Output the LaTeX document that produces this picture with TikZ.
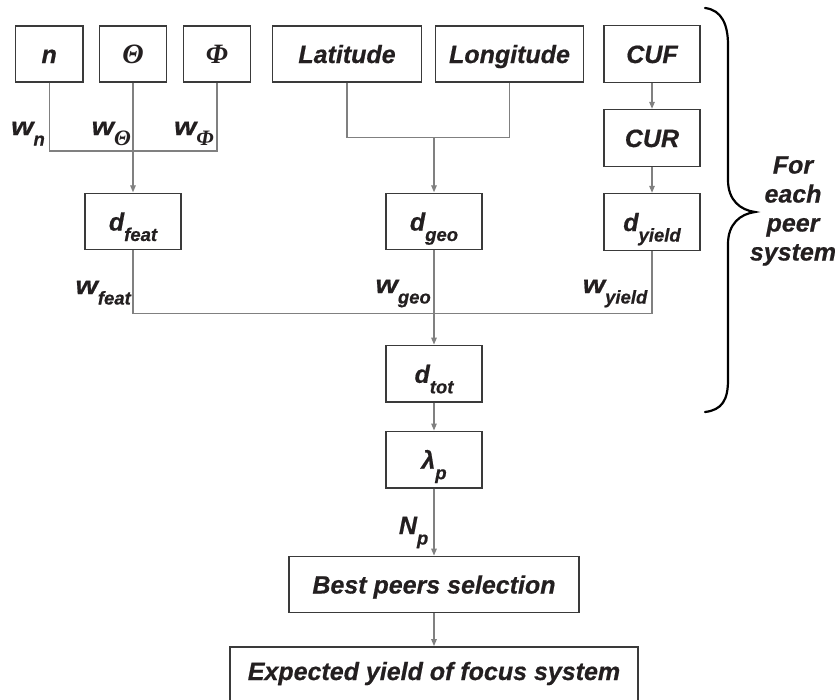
\documentclass[tikz,border=0pt]{standalone}
\usepackage{fontspec}
\setmainfont{Liberation Sans}[BoldItalicFeatures={FakeBold=0.6}]
\newfontfamily\gkfont{Liberation Serif}
\usetikzlibrary{arrows.meta}
\definecolor{boxline}{HTML}{3A3A3A}
\definecolor{conn}{HTML}{808080}
\definecolor{txt}{HTML}{231F20}
\newcommand\sbs[1]{\raisebox{-0.42em}{\fontsize{18.5}{18.5}\selectfont #1}}
\newcommand\gbig[1]{{\fontsize{28}{30}\selectfont\gkfont #1}}
\newcommand\gsub[1]{{\fontsize{22}{22}\selectfont\gkfont #1}}
\newcommand\ww{\scalebox{1.15}[1]{w}}
\tikzset{
  blk/.style={draw=boxline, line width=1.3pt, inner sep=0pt, text=txt,
    text height=18pt, text depth=0pt,
    font=\fontsize{25}{30}\selectfont\bfseries\itshape},
  small/.style={blk, minimum width=67.5pt, minimum height=56pt},
  dbox/.style={blk, minimum width=96pt, minimum height=56.5pt},
  wide/.style={blk, minimum width=148.5pt, minimum height=56pt},
  lbl/.style={inner sep=0pt, anchor=base east, text=txt,
    font=\fontsize{25}{30}\selectfont\bfseries\itshape},
  conline/.style={draw=conn, line width=1.3pt},
  arr/.style={conline, -{Triangle[length=7pt,width=5.5pt]}, shorten >=0.3pt},
}
\begin{document}
\begin{tikzpicture}[x=1pt,y=-1pt]
\clip (0,0) rectangle (835,699);
\fill[white] (0,0) rectangle (835,699);
% top row
\node[small] (n) at (49.2,54) {n};
\node[small] (theta) at (133,54) {\gbig{Θ}};
\node[small] (phi) at (217,54) {\gbig{Φ}};
\node[wide] (lat) at (347,54) {Latitude};
\node[wide] (lon) at (509.5,54) {Longitude};
\node[dbox] (cuf) at (652,54) {CUF};
\node[dbox] (cur) at (652,138) {CUR};
% second row
\node[dbox] (dfeat) at (133,221.5) {d\sbs{feat}};
\node[dbox] (dgeo) at (434,221.5) {d\sbs{geo}};
\node[dbox] (dyield) at (652,222) {d\sbs{yield}};
% chain
\node[dbox] (dtot) at (434,373.8) {d\sbs{tot}};
\node[dbox] (lam) at (434,459.7) {λ\sbs{p}};
\node[blk, minimum width=290pt, minimum height=56pt] (best) at (434,584.5) {Best peers selection};
\node[blk, minimum width=408pt, minimum height=100pt] (exp) at (434,697) {};
\node[inner sep=0pt, anchor=base, text=txt, font=\fontsize{25}{30}\selectfont\bfseries\itshape] (exptext) at (434,680) {Expected yield of focus system};
% junction points
\coordinate (j1) at (133,151);
\coordinate (j2) at (434,137.7);
\coordinate (j3) at (434,313.3);
% connectors
\draw[conline] (n.south) |- (j1) -| (phi.south);
\draw[arr] (theta.south) -- (dfeat.north);
\draw[conline] (lat.south) |- (j2) -| (lon.south);
\draw[arr] (j2) -- (dgeo.north);
\draw[arr] (cuf.south) -- (cur.north);
\draw[arr] (cur.south) -- (dyield.north);
\draw[conline] (dfeat.south) |- (j3) -| (dyield.south);
\draw[arr] (dgeo.south) -- (dtot.north);
\draw[arr] (dtot.south) -- (lam.north);
\draw[arr] (lam.south) -- (best.north);
\draw[arr] (best.south) -- (exp.north);
% weight labels
\node[lbl] (wn) at (45,135) {\ww\sbs{n}};
\node[lbl] (wth) at (131,135) {\ww\raisebox{-0.42em}{\gsub{Θ}}};
\node[lbl] (wph) at (214,135) {\ww\raisebox{-0.42em}{\gsub{Φ}}};
\node[lbl] (wfeat) at (131,294) {\ww\sbs{feat}};
\node[lbl] (wgeo) at (431,293) {\ww\sbs{geo}};
\node[lbl] (wyield) at (647.5,293) {\ww\sbs{yield}};
\node[lbl] (np) at (428.5,534) {N\sbs{p}};
% brace
\draw[black, line width=2.2pt, line cap=round]
  (705,8) .. controls (722,10) and (728,25) .. (728,45) -- (728,180)
  .. controls (728,200) and (740,210) .. (755,212)
  .. controls (740,214) and (728,224) .. (728,244) -- (728,380)
  .. controls (728,400) and (722,410) .. (705,412);
\node[inner sep=0pt, text=txt, align=center,
  font=\fontsize{25}{29}\selectfont\bfseries\itshape] (foreach) at (793,211) {For\\each\\peer\\system};
\end{tikzpicture}
\end{document}
